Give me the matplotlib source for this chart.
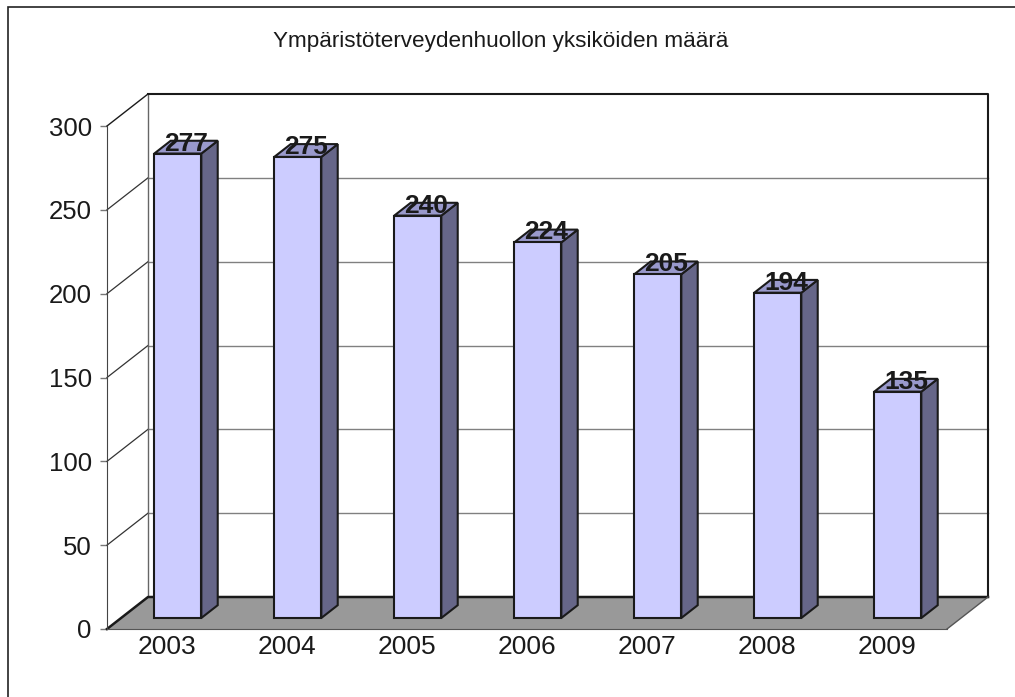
import matplotlib.pyplot as plt
import matplotlib.patches as patches

plt.rcParams['font.family'] = ['Liberation Sans', 'DejaVu Sans']

# data
years = ['2003', '2004', '2005', '2006', '2007', '2008', '2009']
values = [277, 275, 240, 224, 205, 194, 135]
title = "Ympäristöterveydenhuollon yksiköiden määrä"
yticks = [0, 50, 100, 150, 200, 250, 300]

# fake 3d setup (depth goes up and to the right)
PPU = 503 / 300.0          # pixels per value unit
DX = 41 / 120.0            # full depth shift, category units
DY = 32 / PPU              # full depth shift, value units
F0, F1 = 0.344, 0.744      # bar front / back depth
BAR_OFF, BAR_W = 0.2765, 0.392
YMAX = 300


def P(x, v, d):
    # project a point at depth d onto the flat axes
    return (x + d * DX, v + d * DY)


fig = plt.figure(figsize=(10.15, 6.97), dpi=100)
ax = fig.add_axes([0, 0, 1, 1])
ax.set_xlim(-107 / 120.0, (1015 - 107) / 120.0)
ax.set_ylim(-68 / PPU, (697 - 68) / PPU)
ax.patch.set_visible(False)

n = len(years)

# outer frame
fig.patches.append(patches.Rectangle((8 / 1015, -0.1), 1.2, 0.1 + 690 / 697,
                                     transform=fig.transFigure, fill=False,
                                     edgecolor='#222222', lw=1.2))

# back wall
wall = [P(0, 0, 1), P(n, 0, 1), P(n, YMAX, 1), P(0, YMAX, 1)]
ax.add_patch(patches.Polygon(wall, closed=True, facecolor='white',
                             edgecolor='none', zorder=1))
for t in yticks[1:-1]:
    # back grid and left side diagonal
    ax.plot(*zip(P(0, t, 1), P(n, t, 1)), color='#808080', lw=1, zorder=2)
    ax.plot(*zip(P(0, t, 0), P(0, t, 1)), color='#333333', lw=0.9, zorder=2)
ax.plot(*zip(P(0, 0, 1), P(0, YMAX, 1)), color='#666666', lw=1, zorder=2)
ax.plot(*zip(P(0, YMAX, 1), P(n, YMAX, 1), P(n, 0, 1)), color='#1a1a1a', lw=1.5, zorder=3)
ax.plot(*zip(P(0, YMAX, 0), P(0, YMAX, 1)), color='#1a1a1a', lw=1, zorder=3)

# floor
floor = [P(0, 0, 0), P(n, 0, 0), P(n, 0, 1), P(0, 0, 1)]
ax.add_patch(patches.Polygon(floor, closed=True, facecolor='#999999',
                             edgecolor='none', zorder=3))
ax.plot(*zip(P(0, 0, 0), P(0, 0, 1), P(n, 0, 1)), color='#1a1a1a', lw=1.8, zorder=4)
ax.plot(*zip(P(n, 0, 0), P(n, 0, 1)), color='#555555', lw=1, zorder=4)

# bars
for i, v in enumerate(values):
    x0 = i + BAR_OFF
    x1 = x0 + BAR_W
    front = [P(x0, 0, F0), P(x1, 0, F0), P(x1, v, F0), P(x0, v, F0)]
    side = [P(x1, 0, F0), P(x1, 0, F1), P(x1, v, F1), P(x1, v, F0)]
    top = [P(x0, v, F0), P(x1, v, F0), P(x1, v, F1), P(x0, v, F1)]
    for poly, col in [(side, '#666688'), (top, '#9999cc'), (front, '#ccccff')]:
        ax.add_patch(patches.Polygon(poly, closed=True, facecolor=col,
                                     edgecolor='#1a1a1a', lw=1.5,
                                     joinstyle='miter', zorder=5))
    lx = P(x0 + BAR_W / 2, v, F0)[0] + 0.07
    ly = v + F0 * DY + 3 / PPU
    ax.text(lx, ly, str(v), ha='center', va='baseline', fontsize=19,
            fontweight='bold', color='#1a1a1a', zorder=6)

# axes: front left spine and floor front edge
for s in ['top', 'right']:
    ax.spines[s].set_visible(False)
ax.spines['left'].set_position(('data', 0))
ax.spines['left'].set_bounds(0, YMAX)
ax.spines['left'].set_color('#444444')
ax.spines['left'].set_zorder(4)
ax.spines['bottom'].set_position(('data', 0))
ax.spines['bottom'].set_bounds(0, n)
ax.spines['bottom'].set_color('#555555')
ax.spines['bottom'].set_zorder(4)

ax.set_yticks(yticks)
ax.set_yticklabels([str(t) for t in yticks])
ax.tick_params(axis='y', length=5, width=1, color='#777777', pad=6,
               labelsize=18.5, labelcolor='#1a1a1a')
ax.set_xticks([i + 0.5 for i in range(n)])
ax.set_xticklabels(years)
ax.tick_params(axis='x', length=0, pad=4, labelsize=19, labelcolor='#1a1a1a')

fig.text(501 / 1015, 1 - 41 / 697, title, ha='center', va='center',
         fontsize=16.2, color='#1a1a1a')

fig.savefig('out.png', dpi=100)
